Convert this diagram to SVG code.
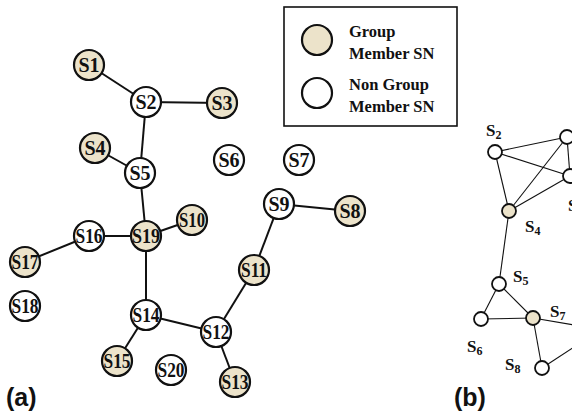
<svg xmlns="http://www.w3.org/2000/svg" width="572" height="413" viewBox="0 0 572 413">
  <style>
    .edge { stroke: #111; stroke-width: 2; fill: none; }
    .edge-b { stroke: #111; stroke-width: 1.1; fill: none; }
    .member { fill: #ECE3CA; stroke: #111; stroke-width: 2.2; }
    .plain { fill: #fff; stroke: #111; stroke-width: 2.2; }
    .member-b { fill: #ECE3CA; stroke: #111; stroke-width: 1.8; }
    .plain-b { fill: #fff; stroke: #111; stroke-width: 1.8; }
    .lbl { font-family: "Liberation Serif", "Times New Roman", serif; font-weight: bold; font-size: 20px; fill: #111; text-anchor: middle; }
    .legend { font-family: "Liberation Serif", "Times New Roman", serif; font-weight: bold; font-size: 16.5px; fill: #111; }
    .blbl { font-family: "Liberation Serif", "Times New Roman", serif; font-weight: bold; font-size: 17px; fill: #111; }
    .sub { font-size: 12px; }
    .panel { font-family: "Liberation Sans", Arial, sans-serif; font-weight: bold; font-size: 25px; fill: #111; }
  </style>

  <!-- connectors, panel (a) -->
  <g id="edges-a">
    <line class="edge" x1="89" y1="65" x2="146" y2="102"/>
    <line class="edge" x1="146" y1="102" x2="222" y2="103"/>
    <line class="edge" x1="146" y1="102" x2="140" y2="173"/>
    <line class="edge" x1="95" y1="148" x2="140" y2="173"/>
    <line class="edge" x1="140" y1="173" x2="146" y2="236"/>
    <line class="edge" x1="89" y1="236" x2="146" y2="236"/>
    <line class="edge" x1="146" y1="236" x2="192" y2="220"/>
    <line class="edge" x1="89" y1="236" x2="25" y2="262"/>
    <line class="edge" x1="146" y1="236" x2="146" y2="315"/>
    <line class="edge" x1="146" y1="315" x2="216" y2="332"/>
    <line class="edge" x1="146" y1="315" x2="117" y2="361"/>
    <line class="edge" x1="216" y1="332" x2="254" y2="270"/>
    <line class="edge" x1="216" y1="332" x2="235" y2="382"/>
    <line class="edge" x1="254" y1="270" x2="279" y2="204"/>
    <line class="edge" x1="279" y1="204" x2="350" y2="211"/>
  </g>

  <!-- nodes, panel (a) -->
  <g id="S1"><circle class="member" cx="89" cy="65" r="15"/><text class="lbl" x="89" y="71.5">S1</text></g>
  <g id="S2"><circle class="plain" cx="146" cy="102" r="15"/><text class="lbl" x="146" y="108.5">S2</text></g>
  <g id="S3"><circle class="member" cx="222" cy="103" r="15"/><text class="lbl" x="222" y="109.5">S3</text></g>
  <g id="S4"><circle class="member" cx="95" cy="148" r="15"/><text class="lbl" x="95" y="154.5">S4</text></g>
  <g id="S5"><circle class="plain" cx="140" cy="173" r="15"/><text class="lbl" x="140" y="179.5">S5</text></g>
  <g id="S6"><circle class="plain" cx="229" cy="160" r="15"/><text class="lbl" x="229" y="166.5">S6</text></g>
  <g id="S7"><circle class="plain" cx="299" cy="160" r="15"/><text class="lbl" x="299" y="166.5">S7</text></g>
  <g id="S8"><circle class="member" cx="350" cy="211" r="15"/><text class="lbl" x="350" y="217.5">S8</text></g>
  <g id="S9"><circle class="plain" cx="279" cy="204" r="15"/><text class="lbl" x="279" y="210.5">S9</text></g>
  <g id="S10"><circle class="member" cx="192" cy="220" r="15"/><text class="lbl" x="192" y="226.5" textLength="26" lengthAdjust="spacingAndGlyphs">S10</text></g>
  <g id="S11"><circle class="member" cx="254" cy="270" r="15"/><text class="lbl" x="254" y="276.5" textLength="26" lengthAdjust="spacingAndGlyphs">S11</text></g>
  <g id="S12"><circle class="plain" cx="216" cy="332" r="15"/><text class="lbl" x="216" y="338.5" textLength="27" lengthAdjust="spacingAndGlyphs">S12</text></g>
  <g id="S13"><circle class="member" cx="235" cy="382" r="15"/><text class="lbl" x="235" y="388.5" textLength="27" lengthAdjust="spacingAndGlyphs">S13</text></g>
  <g id="S14"><circle class="plain" cx="146" cy="315" r="15"/><text class="lbl" x="146" y="321.5" textLength="27" lengthAdjust="spacingAndGlyphs">S14</text></g>
  <g id="S15"><circle class="member" cx="117" cy="361" r="15"/><text class="lbl" x="117" y="367.5" textLength="27" lengthAdjust="spacingAndGlyphs">S15</text></g>
  <g id="S16"><circle class="plain" cx="89" cy="236" r="15"/><text class="lbl" x="89" y="242.5" textLength="27" lengthAdjust="spacingAndGlyphs">S16</text></g>
  <g id="S17"><circle class="member" cx="25" cy="262" r="15"/><text class="lbl" x="25" y="268.5" textLength="27" lengthAdjust="spacingAndGlyphs">S17</text></g>
  <g id="S18"><circle class="plain" cx="25" cy="306" r="15"/><text class="lbl" x="25" y="312.5" textLength="27" lengthAdjust="spacingAndGlyphs">S18</text></g>
  <g id="S19"><circle class="member" cx="146" cy="236" r="15"/><text class="lbl" x="146" y="242.5" textLength="28" lengthAdjust="spacingAndGlyphs">S19</text></g>
  <g id="S20"><circle class="plain" cx="171" cy="370" r="15"/><text class="lbl" x="171" y="376.5" textLength="27" lengthAdjust="spacingAndGlyphs">S20</text></g>

  <text class="panel" x="6" y="406">(a)</text>

  <!-- legend -->
  <g id="legend">
    <rect x="284" y="7" width="173" height="119" fill="#fff" stroke="#111" stroke-width="1.6"/>
    <circle class="member" cx="317" cy="40" r="15"/>
    <text class="legend" x="349" y="37">Group</text>
    <text class="legend" x="349" y="59">Member SN</text>
    <circle class="plain" cx="317" cy="93" r="15"/>
    <text class="legend" x="349" y="90">Non Group</text>
    <text class="legend" x="349" y="112">Member SN</text>
  </g>

  <!-- connectors, panel (b) -->
  <g id="edges-b">
    <line class="edge-b" x1="495" y1="152" x2="567" y2="137"/>
    <line class="edge-b" x1="495" y1="152" x2="570" y2="176"/>
    <line class="edge-b" x1="495" y1="152" x2="509" y2="211"/>
    <line class="edge-b" x1="567" y1="137" x2="509" y2="211"/>
    <line class="edge-b" x1="567" y1="137" x2="570" y2="176"/>
    <line class="edge-b" x1="570" y1="176" x2="509" y2="211"/>
    <line class="edge-b" x1="509" y1="211" x2="499" y2="284"/>
    <line class="edge-b" x1="499" y1="284" x2="481" y2="319"/>
    <line class="edge-b" x1="499" y1="284" x2="533" y2="318"/>
    <line class="edge-b" x1="481" y1="319" x2="533" y2="318"/>
    <line class="edge-b" x1="533" y1="318" x2="574" y2="325"/>
    <line class="edge-b" x1="533" y1="318" x2="542" y2="368"/>
    <line class="edge-b" x1="542" y1="368" x2="574" y2="347"/>
  </g>

  <!-- nodes, panel (b) -->
  <g id="b-S2"><circle class="plain-b" cx="495" cy="152" r="7"/><text class="blbl" x="486" y="136">S<tspan class="sub" dy="3">2</tspan></text></g>
  <g id="b-S3a"><circle class="plain-b" cx="567" cy="137" r="7"/></g>
  <g id="b-S3"><circle class="plain-b" cx="570" cy="176" r="7"/><text class="blbl" x="568" y="211">S</text></g>
  <g id="b-S4"><circle class="member-b" cx="509" cy="211" r="7"/><text class="blbl" x="525" y="232">S<tspan class="sub" dy="3">4</tspan></text></g>
  <g id="b-S5"><circle class="plain-b" cx="499" cy="284" r="7"/><text class="blbl" x="513" y="282">S<tspan class="sub" dy="3">5</tspan></text></g>
  <g id="b-S6"><circle class="plain-b" cx="481" cy="319" r="7"/><text class="blbl" x="467" y="352">S<tspan class="sub" dy="3">6</tspan></text></g>
  <g id="b-S7"><circle class="member-b" cx="533" cy="318" r="7"/><text class="blbl" x="550" y="317">S<tspan class="sub" dy="3">7</tspan></text></g>
  <g id="b-S8"><circle class="plain-b" cx="542" cy="368" r="7"/><text class="blbl" x="505" y="370">S<tspan class="sub" dy="3">8</tspan></text></g>

  <text class="panel" x="454" y="406">(b)</text>
</svg>
